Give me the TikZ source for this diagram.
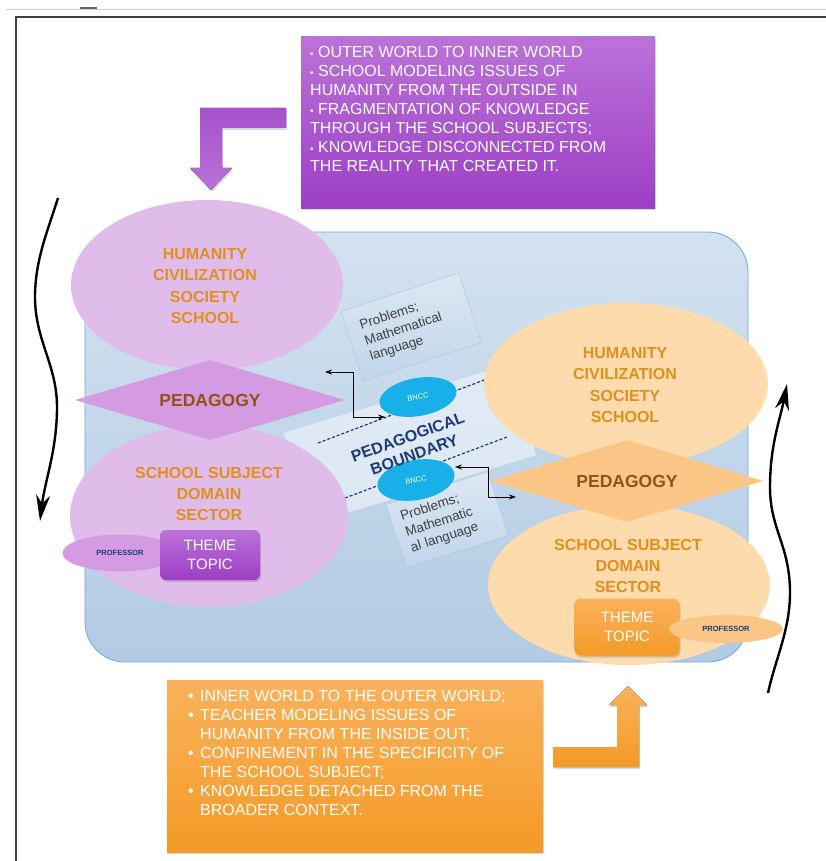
\documentclass[tikz,border=0pt]{standalone}
\usepackage{fontspec}
\setmainfont{Liberation Sans}
\usepackage{tikz}
\usetikzlibrary{shapes.geometric,arrows.meta,shadows}
\definecolor{lilac}{HTML}{DFBCE9}
\definecolor{lilacdk}{HTML}{D49BE3}
\definecolor{peach}{HTML}{FDDBAD}
\definecolor{peachdk}{HTML}{FBC685}
\definecolor{capor}{HTML}{E0901F}
\definecolor{pedbrown}{HTML}{8F5415}
\definecolor{navy}{HTML}{1F3A7A}
\definecolor{bncc}{HTML}{17B0E8}
\definecolor{stagetop}{HTML}{D3E2F0}
\definecolor{stagebot}{HTML}{B2CBE3}
\definecolor{stageline}{HTML}{6FA8DC}
\definecolor{bandfill}{HTML}{E2ECF6}
\definecolor{probtop}{HTML}{DDE8F3}
\definecolor{probbot}{HTML}{C0D5EA}
\definecolor{probline}{HTML}{A9C5E0}
\definecolor{purtop}{HTML}{BB72D8}
\definecolor{purbot}{HTML}{9D3EC5}
\definecolor{ortop}{HTML}{FBB25C}
\definecolor{orbot}{HTML}{F39A26}
\newcommand{\bul}{{\fontsize{10}{10}\selectfont\textbullet}\ }
\newcommand{\dotin}{\makebox[12pt][l]{\textbullet}}
\newcommand{\gapin}{\hspace*{12pt}}

\begin{document}
\begin{tikzpicture}[x=1pt,y=-1pt,
  blob/.style={ellipse,inner sep=0pt},
  caps/.style={font=\bfseries\fontsize{16}{21.3}\selectfont,text=capor,align=center},
  ped/.style={diamond,inner sep=0pt,aspect=3.3,font=\bfseries\fontsize{17.5}{20}\selectfont,text=pedbrown},
  theme/.style={rounded corners=6pt,text=white,align=center,font=\fontsize{15}{19}\selectfont,
    drop shadow={opacity=.35,shadow xshift=1pt,shadow yshift=-2pt}},
  prof/.style={ellipse,inner sep=0pt,font=\bfseries\fontsize{7.5}{9}\selectfont,text=navy},
  probbox/.style={draw=probline,top color=probtop,bottom color=probbot,rotate=18,
    align=left,text width=96pt,text=black!75,font=\fontsize{13.5}{16.5}\selectfont},
  bnccblob/.style={ellipse,fill=bncc,inner sep=0pt,rotate=10,text=white,font=\fontsize{7.5}{9}\selectfont},
  conn/.style={line width=.9pt,{Stealth[length=7pt,width=5pt]}-{Stealth[length=7pt,width=5pt]}},
  wave/.style={line width=2.4pt,-{Stealth[length=26pt,width=14pt]}},
  listtxt/.style={inner sep=0pt,align=left,text=white,font=\fontsize{16}{19}\selectfont},
  bigbox/.style={drop shadow={opacity=.3,shadow xshift=1pt,shadow yshift=-2pt}}]
  \useasboundingbox (0,0) rectangle (826,861);
  \draw[black!20,line width=.8pt] (6,9) -- (826,9);
  \draw[black!60,line width=2pt] (80,8) -- (97,8);
  \draw[black!75,line width=1.2pt] (16,861) -- (16,17) -- (826,17);

  \node[draw=stageline,line width=.8pt,rounded corners=40pt,top color=stagetop,bottom color=stagebot,
    minimum width=663,minimum height=430] (stage) at (416.5,447) {};

  \node[fill=bandfill,opacity=.9,rotate=17,minimum width=235,minimum height=95] (bound) at (410,444) {};
  \coordinate (du1) at (318,443);
  \coordinate (du2) at (492,377);
  \coordinate (dl1) at (345,498);
  \coordinate (dl2) at (507,437);
  \draw[navy,line width=1.2pt,dash pattern=on 3pt off 2pt] (du1) -- (du2);
  \draw[navy,line width=1.2pt,dash pattern=on 3pt off 2pt] (dl1) -- (dl2);
  \node[probbox,minimum width=124,minimum height=73] (probU) at (411,327) {Problems;\\Mathematical\\language};
  \node[probbox,minimum width=107,minimum height=67,text width=86pt] (probL) at (447,520) {Problems;\\Mathematic\\al language};
  \node[bnccblob,minimum width=78,minimum height=38] (bnccU) at (418,397) {BNCC};
  \node[bnccblob,minimum width=78,minimum height=40] (bnccL) at (416,480) {BNCC};
  \node[rotate=20,align=center,text=navy,font=\bfseries\fontsize{16}{19}\selectfont] (boundtxt) at (411,446) {PEDAGOGICAL\\BOUNDARY};

  \node[blob,fill=lilac,minimum width=272,minimum height=170] (humL) at (207,285) {};
  \node[blob,fill=lilac,minimum width=278,minimum height=182] (subjL) at (209,516) {};
  \node[ped,fill=lilacdk,minimum width=270,minimum height=80] (pedL) at (210,400) {PEDAGOGY};
  \node[caps] (humLtxt) at (205,286) {HUMANITY\\CIVILIZATION\\SOCIETY\\SCHOOL};
  \node[caps] (subjLtxt) at (209,494) {SCHOOL SUBJECT\\DOMAIN\\SECTOR};
  \node[prof,fill=lilacdk,minimum width=115,minimum height=37] (profL) at (120,553) {PROFESSOR};
  \node[theme,top color=purtop,bottom color=purbot,minimum width=100,minimum height=50] (themeL) at (210,555) {THEME\\TOPIC};

  \node[blob,fill=peach,minimum width=284,minimum height=162] (humR) at (626,384) {};
  \node[blob,fill=peach,minimum width=282,minimum height=160] (subjR) at (629,585) {};
  \node[ped,fill=peachdk,minimum width=273,minimum height=82] (pedR) at (627,481) {PEDAGOGY};
  \node[caps] (humRtxt) at (625,385) {HUMANITY\\CIVILIZATION\\SOCIETY\\SCHOOL};
  \node[caps] (subjRtxt) at (628,566) {SCHOOL SUBJECT\\DOMAIN\\SECTOR};
  \node[theme,top color=ortop,bottom color=orbot,minimum width=105,minimum height=57] (themeR) at (627,627) {THEME\\TOPIC};
  \node[prof,fill=peachdk,minimum width=114,minimum height=28] (profR) at (726,629) {PROFESSOR};

  \coordinate (upL) at (325,372);
  \coordinate (upR) at (385,417);
  \coordinate (loL) at (455,467);
  \coordinate (loR) at (516,497);
  \draw[conn] (upL) -- ++(28,0) |- (upR);
  \draw[conn] (loL) -- ++(33,0) |- (loR);

  \coordinate (wl0) at (58,198);
  \coordinate (wl1) at (40,521);
  \draw[wave] (wl0) .. controls (48,230) and (35,260) .. (35,297) .. controls (35,340) and (57,365) .. (57,407) .. controls (57,450) and (45,480) .. (wl1);
  \coordinate (wr0) at (768,693);
  \coordinate (wr1) at (787,384);
  \draw[wave] (wr0) .. controls (775,660) and (790,630) .. (790,593) .. controls (790,545) and (770,530) .. (770,487) .. controls (770,445) and (780,420) .. (wr1);

  \node[bigbox,top color=purtop,bottom color=purbot,minimum width=354,minimum height=171] (outerbox) at (478,122.5) {};
  \node[listtxt,anchor=north west] (outertxt) at (310,46) {\bul OUTER WORLD TO INNER WORLD\\
    \bul SCHOOL MODELING ISSUES OF\\HUMANITY FROM THE OUTSIDE IN\\
    \bul FRAGMENTATION OF KNOWLEDGE\\THROUGH THE SCHOOL SUBJECTS;\\
    \bul KNOWLEDGE DISCONNECTED FROM\\THE REALITY THAT CREATED IT.};
  \fill[top color=purbot!90!white,bottom color=purtop,drop shadow={opacity=.3,shadow xshift=1pt,shadow yshift=-2pt}]
    (286,108) -- (286,128) -- (222,128) -- (222,168) -- (232,168) -- (211,190) -- (190,168) -- (200,168) -- (200,108) -- cycle;

  \node[bigbox,top color=ortop,bottom color=orbot,minimum width=376,minimum height=172] (innerbox) at (355,766) {};
  \node[listtxt,anchor=north west] (innertxt) at (188,690) {\dotin INNER WORLD TO THE OUTER WORLD;\\
    \dotin TEACHER MODELING ISSUES OF\\\gapin HUMANITY FROM THE INSIDE OUT;\\
    \dotin CONFINEMENT IN THE SPECIFICITY OF\\\gapin THE SCHOOL SUBJECT;\\
    \dotin KNOWLEDGE DETACHED FROM THE\\\gapin BROADER CONTEXT.};
  \fill[top color=ortop,bottom color=orbot,drop shadow={opacity=.3,shadow xshift=1pt,shadow yshift=-2pt}]
    (553,747) -- (617,747) -- (617,705) -- (609,705) -- (628,686) -- (647,705) -- (639,705) -- (639,767) -- (553,767) -- cycle;
\end{tikzpicture}
\end{document}
